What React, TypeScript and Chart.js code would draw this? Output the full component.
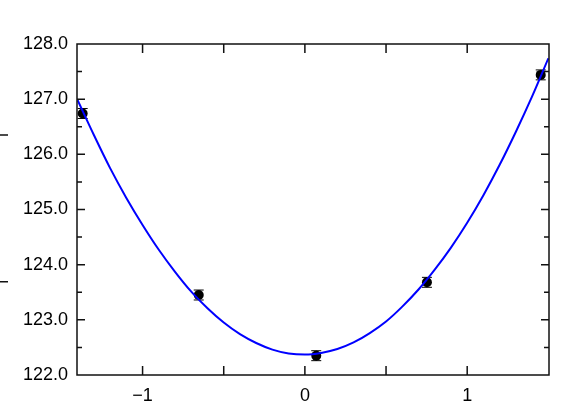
import React, { useEffect, useRef } from "react";
import { Chart, registerables } from "chart.js";

Chart.register(...registerables);

// Measured data points with error bars
const pointX = [-1.369, -0.654, 0.07, 0.752, 1.453];
const pointY = [126.74, 123.45, 122.35, 123.68, 127.44];
const pointErr = [0.09, 0.09, 0.09, 0.09, 0.09];

// Fitted curve
const curveX = [
  -1.4, -1.3, -1.2, -1.1, -1.0, -0.9, -0.8, -0.7, -0.6, -0.5, -0.4, -0.3, -0.2, -0.1, 0.0,
  0.1, 0.2, 0.3, 0.4, 0.5, 0.6, 0.7, 0.8, 0.9, 1.0, 1.1, 1.2, 1.3, 1.4, 1.5,
];
const curveY = [
  126.98, 126.35, 125.75, 125.21, 124.72, 124.27, 123.87, 123.51, 123.21, 122.95, 122.74,
  122.58, 122.46, 122.39, 122.37, 122.4, 122.47, 122.59, 122.76, 122.97, 123.24, 123.55,
  123.91, 124.31, 124.76, 125.26, 125.81, 126.41, 127.05, 127.74,
];

// Axes
const X_MIN = -1.404;
const X_MAX = 1.504;
const Y_MIN = 122;
const Y_MAX = 128;
const xTickLabels = [-1, 0, 1];
const xTickMarks = [-1, -0.5, 0, 0.5, 1];
const yMajorMarks = [123, 124, 125, 126, 127];
const yMinorMarks = [122.5, 123.5, 124.5, 125.5, 126.5, 127.5];
// stray marks at the far left edge
const strayMarksY = [126.35, 123.69];

const FONT = { family: "'Liberation Sans', Arial, sans-serif", size: 18 };

const errorBarPlugin = {
  id: "errorBars",
  beforeDatasetsDraw(chart: any) {
    const { ctx, scales } = chart;
    const x = scales.x;
    const y = scales.y;
    ctx.save();
    ctx.strokeStyle = "#000";
    ctx.lineWidth = 1;
    pointX.forEach((vx, i) => {
      const px = x.getPixelForValue(vx);
      const pTop = y.getPixelForValue(pointY[i] + pointErr[i]);
      const pBot = y.getPixelForValue(pointY[i] - pointErr[i]);
      ctx.beginPath();
      ctx.moveTo(px, pTop);
      ctx.lineTo(px, pBot);
      ctx.moveTo(px - 5, pTop);
      ctx.lineTo(px + 5, pTop);
      ctx.moveTo(px - 5, pBot);
      ctx.lineTo(px + 5, pBot);
      ctx.stroke();
    });
    ctx.restore();
  },
};

const framePlugin = {
  id: "frame",
  afterDatasetsDraw(chart: any) {
    const { ctx, chartArea, scales } = chart;
    const { left, right, top, bottom } = chartArea;
    const x = scales.x;
    const y = scales.y;
    ctx.save();
    ctx.strokeStyle = "#111";
    ctx.lineWidth = 1.5;
    ctx.strokeRect(left, top, right - left, bottom - top);
    ctx.beginPath();
    xTickMarks.forEach((v) => {
      const px = x.getPixelForValue(v);
      ctx.moveTo(px, bottom);
      ctx.lineTo(px, bottom - 9);
      ctx.moveTo(px, top);
      ctx.lineTo(px, top + 9);
    });
    yMajorMarks.forEach((v) => {
      const py = y.getPixelForValue(v);
      ctx.moveTo(left, py);
      ctx.lineTo(left + 8, py);
      ctx.moveTo(right, py);
      ctx.lineTo(right - 8, py);
    });
    yMinorMarks.forEach((v) => {
      const py = y.getPixelForValue(v);
      ctx.moveTo(left, py);
      ctx.lineTo(left + 5, py);
      ctx.moveTo(right, py);
      ctx.lineTo(right - 5, py);
    });
    strayMarksY.forEach((v) => {
      const py = y.getPixelForValue(v);
      ctx.moveTo(0, py);
      ctx.lineTo(8, py);
    });
    ctx.stroke();
    ctx.restore();
  },
};

export default function App() {
  const ref = useRef<HTMLCanvasElement>(null);

  useEffect(() => {
    document.body.style.margin = "0";
    const canvas = ref.current!;
    const chart = new Chart(canvas, {
      type: "scatter",
      data: {
        datasets: [
          {
            type: "line",
            data: curveX.map((v, i) => ({ x: v, y: curveY[i] })),
            borderColor: "#0000ff",
            borderWidth: 2,
            pointRadius: 0,
            fill: false,
            cubicInterpolationMode: "monotone",
          } as any,
          {
            type: "scatter",
            data: pointX.map((v, i) => ({ x: v, y: pointY[i] })),
            backgroundColor: "#000",
            borderColor: "#000",
            pointRadius: 5,
            pointBorderWidth: 0,
          },
        ],
      },
      options: {
        responsive: false,
        animation: false,
        layout: { padding: { top: 44, right: 29, left: 0, bottom: 0 } },
        plugins: {
          legend: { display: false },
          tooltip: { enabled: false },
        },
        scales: {
          x: {
            type: "linear",
            min: X_MIN,
            max: X_MAX,
            grid: { display: false, drawTicks: false },
            border: { display: false },
            afterBuildTicks: (s: any) => {
              s.ticks = xTickLabels.map((v) => ({ value: v }));
            },
            afterFit: (s: any) => {
              s.height = 34;
            },
            ticks: {
              padding: 10,
              color: "#000",
              font: FONT,
              maxRotation: 0,
              callback: (v: any) => (Number(v) < 0 ? "\u2212" + Math.abs(Number(v)) : String(v)),
            },
          },
          y: {
            type: "linear",
            min: Y_MIN,
            max: Y_MAX,
            grid: { display: false, drawTicks: false },
            border: { display: false },
            afterFit: (s: any) => {
              s.width = 77;
            },
            ticks: {
              stepSize: 1,
              padding: 9,
              color: "#000",
              font: FONT,
              callback: (v: any) => Number(v).toFixed(1),
            },
          },
        },
      },
      plugins: [errorBarPlugin, framePlugin],
    });
    return () => chart.destroy();
  }, []);

  return (
    <div style={{ position: "absolute", left: 0, top: 0, width: 578, height: 409, background: "#fff" }}>
      <canvas ref={ref} width={578} height={409} style={{ width: 578, height: 409 }} />
    </div>
  );
}
